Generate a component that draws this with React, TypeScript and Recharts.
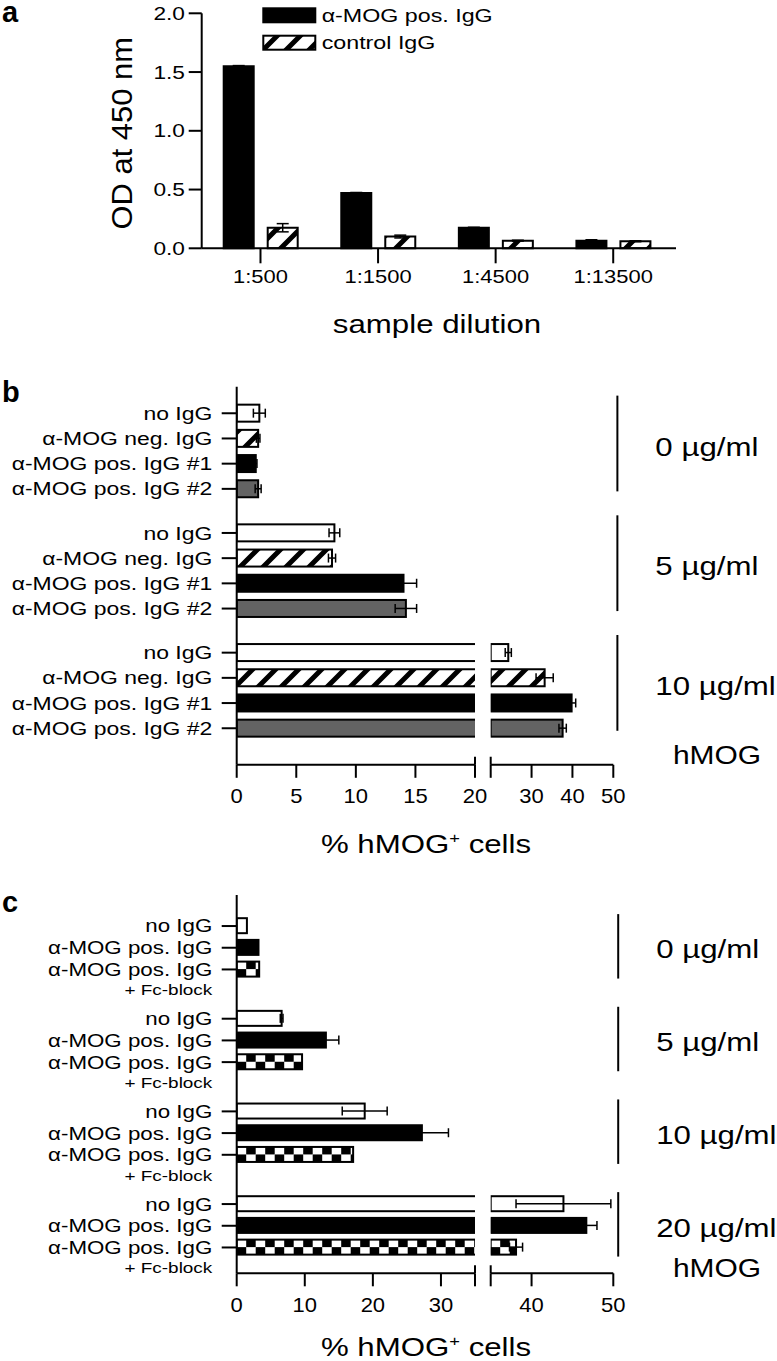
import React from "react";
import { Bar, BarChart, ErrorBar, Legend, ReferenceLine, XAxis, YAxis } from "recharts";

const FONT = '"Liberation Sans", Arial, Helvetica, sans-serif';
const GRAY = "#636363";
const AXIS = { stroke: "#000", strokeWidth: 2 };

// panel a: ELISA
const dilutions = ["1:500", "1:1500", "1:4500", "1:13500"];
const odPos = [1.55, 0.47, 0.175, 0.065];
const odPosErr = [0.005, 0.005, 0.004, 0.008];
const odCtrl = [0.175, 0.1, 0.065, 0.06];
const odCtrlErr = [0.035, 0.012, 0.004, 0.004];
const odTicks = [0, 0.5, 1, 1.5, 2];

// panel b: hMOG transfected cells, 3 concentrations
const concB = ["0 µg/ml", "5 µg/ml", "10 µg/ml"];
const rowLabelsB = ["no IgG", "α-MOG neg. IgG", "α-MOG pos. IgG #1", "α-MOG pos. IgG #2"];
const rowKindsB = ["open", "hatch", "black", "gray"];
const noIgGB = [1.9, 8.2, 24.3];
const noIgGErrB = [0.5, 0.45, 0.75];
const negIgGB = [1.8, 8.0, 33.2];
const negIgGErrB = [0.15, 0.3, 2.1];
const pos1B = [1.6, 14.0, 39.8];
const pos1ErrB = [0.1, 1.1, 1.0];
const pos2B = [1.8, 14.2, 37.6];
const pos2ErrB = [0.25, 0.9, 0.9];
const lowTicksB = [0, 5, 10, 15, 20];
const highTicksB = [20, 30, 40, 50];

// panel c: Fc-block, 4 concentrations
const concC = ["0 µg/ml", "5 µg/ml", "10 µg/ml", "20 µg/ml"];
const rowLabelsC = ["no IgG", "α-MOG pos. IgG", "α-MOG pos. IgG"];
const rowSubsC = ["", "", "+ Fc-block"];
const rowKindsC = ["open", "black", "checker"];
const noIgGC = [1.5, 6.6, 18.8, 43.9];
const noIgGErrC = [0, 0.2, 3.3, 5.8];
const posIgGC = [3.2, 13.1, 27.2, 46.7];
const posIgGErrC = [0, 1.9, 3.9, 1.3];
const fcBlockC = [3.3, 9.6, 17.1, 38.1];
const fcBlockErrC = [0, 0, 0, 0.8];
const lowTicksC = [0, 10, 20, 30, 35];
const highTicksC = [35, 40, 50];

type Row = { pos: number; label: string; sub: string; kind: string; value: number; err: number | null };

function buildRows(
  groups: string[],
  labels: string[],
  subs: string[],
  kinds: string[],
  values: number[][],
  errs: number[][],
  stride: number
): Row[] {
  const rows: Row[] = [];
  groups.forEach((_, g) => {
    labels.forEach((label, r) => {
      rows.push({
        pos: g * stride + r,
        label,
        sub: subs[r],
        kind: kinds[r],
        value: values[r][g],
        err: errs[r][g] || null,
      });
    });
  });
  return rows;
}

const rowsB = buildRows(
  concB,
  rowLabelsB,
  ["", "", "", ""],
  rowKindsB,
  [noIgGB, negIgGB, pos1B, pos2B],
  [noIgGErrB, negIgGErrB, pos1ErrB, pos2ErrB],
  4.75
);
const rowsC = buildRows(
  concC,
  rowLabelsC,
  rowSubsC,
  rowKindsC,
  [noIgGC, posIgGC, fcBlockC],
  [noIgGErrC, posIgGErrC, fcBlockErrC],
  4.27
);

let measureCtx: CanvasRenderingContext2D | null = null;
function textWidth(text: string, size: number, weight = "normal") {
  if (!measureCtx) measureCtx = document.createElement("canvas").getContext("2d");
  if (!measureCtx) return text.length * size * 0.55;
  measureCtx.font = `${weight} ${size}px "Liberation Sans"`;
  return measureCtx.measureText(text).width;
}

// text that is stretched sideways like the figure's type
function SText({ x, y, text, size, sx = 1.22, anchor = "start", weight = "normal", transform }: any) {
  return (
    <text
      x={x}
      y={y}
      fontFamily={FONT}
      fontSize={size}
      fontWeight={weight}
      textAnchor={anchor}
      textLength={textWidth(text, size, weight) * sx}
      lengthAdjust="spacingAndGlyphs"
      fill="#000"
      transform={transform}
    >
      {text}
    </text>
  );
}

function CellsTitle({ cx, y }: { cx: number; y: number }) {
  const size = 25.6;
  const w = (textWidth("% hMOG", size) + textWidth("+", 15) + textWidth(" cells", size)) * 1.22;
  return (
    <text
      x={cx}
      y={y}
      textAnchor="middle"
      fontFamily={FONT}
      fontSize={size}
      textLength={w}
      lengthAdjust="spacingAndGlyphs"
      fill="#000"
    >
      % hMOG
      <tspan fontSize={15} dy={-10}>
        +
      </tspan>
      <tspan dy={10}> cells</tspan>
    </text>
  );
}

function NumTick(props: any) {
  const { x, y, payload, size, sx, blank, fmt } = props;
  if (blank && blank.includes(payload.value)) return <g />;
  const text = fmt ? fmt(payload.value) : String(payload.value);
  return <SText x={x} y={y + size * 0.716} text={text} size={size} sx={sx} anchor="middle" />;
}

function RowTick(props: any) {
  const { x, y, payload, rows, size, subSize } = props;
  const row = rows.find((r: Row) => Math.abs(r.pos - payload.value) < 1e-6);
  if (!row) return <g />;
  return (
    <g>
      <SText x={x} y={y + size * 0.358} text={row.label} size={size} sx={1.24} anchor="end" />
      {row.sub ? (
        <SText x={x} y={y + size * 0.358 + 19.5} text={row.sub} size={subSize} sx={1.23} anchor="end" />
      ) : null}
    </g>
  );
}

function CheckerRect({ x, y, width, height }: any) {
  const cell = 9.5;
  const half = height / 2;
  const n = Math.ceil(width / cell);
  const cells = [];
  for (let i = 0; i < n; i++) {
    const w = Math.min(cell, width - i * cell);
    cells.push(<rect key={i} x={x + i * cell} y={i % 2 === 0 ? y + half : y} width={w} height={half} fill="#000" />);
  }
  return (
    <g>
      <rect x={x} y={y} width={width} height={height} fill="#fff" />
      {cells}
      <rect x={x} y={y} width={width} height={height} fill="none" stroke="#000" strokeWidth={2} />
    </g>
  );
}

function RowBar(props: any) {
  const { x, y, width, height, payload } = props;
  if (!width || width <= 0) return <g />;
  if (payload.kind === "checker") return <CheckerRect x={x} y={y} width={width} height={height} />;
  const fill =
    payload.kind === "black" ? "#000" : payload.kind === "gray" ? GRAY : payload.kind === "hatch" ? "url(#hatch)" : "#fff";
  return <rect x={x} y={y} width={width} height={height} fill={fill} stroke="#000" strokeWidth={2} />;
}

function GroupLabel({ viewBox, text }: any) {
  if (!viewBox) return null;
  return <SText x={viewBox.x + 38} y={viewBox.y + viewBox.height / 2 + 3 + 25.6 * 0.358} text={text} size={25.6} sx={1.22} />;
}

const legendOrder = ["pos", "ctrl"];

function LegendBox({ payload }: any) {
  const items = [...(payload || [])].sort(
    (a: any, b: any) => legendOrder.indexOf(a.dataKey) - legendOrder.indexOf(b.dataKey)
  );
  return (
    <svg width={250} height={50} style={{ display: "block" }}>
      {items.map((e: any, i: number) => (
        <g key={e.value}>
          <rect
            x={1.3}
            y={3.3 + i * 27.4}
            width={52}
            height={14}
            fill={e.dataKey === "ctrl" ? "url(#hatch)" : "#000"}
            stroke="#000"
            strokeWidth={2}
          />
          <SText x={59.7} y={17.2 + i * 27} text={e.value} size={18.6} sx={1.25} />
        </g>
      ))}
    </svg>
  );
}

type PanelProps = {
  rows: Row[];
  groups: string[];
  stride: number;
  top: number;
  marginTop: number;
  plotHeight: number;
  yDomain: [number, number];
  brk: number;
  lowTicks: number[];
  highTicks: number[];
  lowBlank: number[];
  highBlank: number[];
  barSize: number;
  labelSize: number;
  tickMargin: number;
  bracketX: number;
  bracketSpan: [number, number];
  markUnits: number;
};

function BrokenPanel(p: PanelProps) {
  const height = p.marginTop + p.plotHeight + 60;
  const lowData = p.rows.map((r) => ({ ...r, err: r.value <= p.brk ? r.err : null }));
  const highData = p.rows.map((r) => ({ ...r, err: r.value > p.brk ? r.err : null }));
  const rowTicks = p.rows.map((r) => r.pos);
  const mark = [
    { x: p.brk, y: p.yDomain[1] - p.markUnits },
    { x: p.brk, y: p.yDomain[1] },
  ];
  return (
    <>
      <div style={{ position: "absolute", left: 0, top: p.top }}>
        <BarChart
          width={495}
          height={height}
          data={lowData}
          layout="vertical"
          margin={{ top: p.marginTop, right: 20, left: 0, bottom: 0 }}
        >
          <XAxis
            type="number"
            domain={[0, p.brk]}
            allowDataOverflow
            ticks={p.lowTicks}
            interval={0}
            height={60}
            tickSize={13}
            tickMargin={p.tickMargin}
            axisLine={AXIS}
            tickLine={AXIS}
            tick={(t: any) => <NumTick {...t} size={20} sx={1.1} blank={p.lowBlank} />}
          />
          <YAxis
            type="number"
            dataKey="pos"
            domain={p.yDomain}
            allowDataOverflow
            ticks={rowTicks}
            interval={0}
            width={236.7}
            tickSize={15}
            tickMargin={9.4}
            axisLine={AXIS}
            tickLine={AXIS}
            tick={(t: any) => <RowTick {...t} rows={p.rows} size={p.labelSize} subSize={15.4} />}
          />
          <Bar dataKey="value" barSize={p.barSize} shape={(b: any) => <RowBar {...b} />} isAnimationActive={false}>
            <ErrorBar dataKey="err" direction="x" width={4.5} stroke="#000" strokeWidth={1.5} />
          </Bar>
          <ReferenceLine segment={mark} stroke="#000" strokeWidth={2} ifOverflow="visible" />
        </BarChart>
      </div>
      <div style={{ position: "absolute", left: 480, top: p.top }}>
        <BarChart
          width={297}
          height={height}
          data={highData}
          layout="vertical"
          margin={{ top: p.marginTop, right: 163.7, left: 10.7, bottom: 0 }}
        >
          <XAxis
            type="number"
            domain={[p.brk, 50]}
            allowDataOverflow
            ticks={p.highTicks}
            interval={0}
            height={60}
            tickSize={13}
            tickMargin={p.tickMargin}
            axisLine={AXIS}
            tickLine={AXIS}
            tick={(t: any) => <NumTick {...t} size={20} sx={1.1} blank={p.highBlank} />}
          />
          <YAxis type="number" dataKey="pos" domain={p.yDomain} allowDataOverflow hide width={0} />
          <Bar dataKey="value" barSize={p.barSize} shape={(b: any) => <RowBar {...b} />} isAnimationActive={false}>
            <ErrorBar dataKey="err" direction="x" width={4.5} stroke="#000" strokeWidth={1.5} />
          </Bar>
          <ReferenceLine segment={mark} stroke="#000" strokeWidth={2} ifOverflow="visible" />
          {p.groups.map((g, i) => (
            <ReferenceLine
              key={g}
              segment={[
                { x: p.bracketX, y: i * p.stride + p.bracketSpan[0] },
                { x: p.bracketX, y: i * p.stride + p.bracketSpan[1] },
              ]}
              stroke="#000"
              strokeWidth={2}
              ifOverflow="visible"
              label={{ content: (lp: any) => <GroupLabel viewBox={lp.viewBox} text={g} /> }}
            />
          ))}
        </BarChart>
      </div>
    </>
  );
}

export default function App() {
  const odData = dilutions.map((d, i) => ({
    dilution: d,
    pos: odPos[i],
    posErr: odPosErr[i],
    ctrl: odCtrl[i],
    ctrlErr: odCtrlErr[i],
  }));

  return (
    <div style={{ position: "absolute", left: 0, top: 0, width: 777, height: 1361, background: "#fff", overflow: "hidden" }}>
      <svg width={0} height={0} style={{ position: "absolute" }}>
        <defs>
          <pattern id="hatch" patternUnits="userSpaceOnUse" width={23} height={23}>
            <rect width={23} height={23} fill="#fff" />
            <path d="M-6,29 L29,-6 M-6,6 L6,-6 M17,29 L29,17" stroke="#000" strokeWidth={5} />
          </pattern>
        </defs>
      </svg>

      {/* panel a */}
      <div style={{ position: "absolute", left: 0, top: 0 }}>
        <BarChart width={700} height={330} data={odData} barGap={14} margin={{ top: 13.3, right: 24, left: 0, bottom: 0 }}>
          <XAxis
            dataKey="dilution"
            padding={{ left: 0, right: 4 }}
            height={81.7}
            tickSize={15}
            tickMargin={6.7}
            axisLine={AXIS}
            tickLine={AXIS}
            tick={(t: any) => <NumTick {...t} size={18.6} sx={1.18} />}
          />
          <YAxis
            domain={[0, 2]}
            ticks={odTicks}
            interval={0}
            width={201.7}
            tickSize={13}
            tickMargin={3.7}
            axisLine={AXIS}
            tickLine={AXIS}
            tick={(t: any) => (
              <SText
                x={t.x}
                y={t.y + 18.6 * 0.358}
                text={Number(t.payload.value).toFixed(1)}
                size={18.6}
                sx={1.22}
                anchor="end"
              />
            )}
          />
          <Legend
            layout="vertical"
            align="center"
            verticalAlign="middle"
            wrapperStyle={{ top: 5, left: 262, width: 250 }}
            content={(lp: any) => <LegendBox payload={lp.payload} />}
          />
          <Bar dataKey="pos" name="α-MOG pos. IgG" barSize={30} fill="#000" stroke="#000" strokeWidth={2} isAnimationActive={false}>
            <ErrorBar dataKey="posErr" width={6} stroke="#000" strokeWidth={1.5} />
          </Bar>
          <Bar dataKey="ctrl" name="control IgG" barSize={30} fill="url(#hatch)" stroke="#000" strokeWidth={2} isAnimationActive={false}>
            <ErrorBar dataKey="ctrlErr" width={6} stroke="#000" strokeWidth={1.5} />
          </Bar>
        </BarChart>
      </div>

      {/* panel b */}
      <BrokenPanel
        rows={rowsB}
        groups={concB}
        stride={4.75}
        top={370}
        marginTop={16.8}
        plotHeight={378}
        yDomain={[-1.05, 13.95]}
        brk={20}
        lowTicks={lowTicksB}
        highTicks={highTicksB}
        lowBlank={[]}
        highBlank={[20]}
        barSize={17}
        labelSize={18.5}
        tickMargin={10.5}
        bracketX={51}
        bracketSpan={[-0.7, 3.1]}
        markUnits={0.32}
      />

      {/* panel c */}
      <BrokenPanel
        rows={rowsC}
        groups={concC}
        stride={4.27}
        top={880}
        marginTop={15}
        plotHeight={378.3}
        yDomain={[-1.43, 16.0]}
        brk={35}
        lowTicks={lowTicksC}
        highTicks={highTicksC}
        lowBlank={[35]}
        highBlank={[35]}
        barSize={15}
        labelSize={18}
        tickMargin={11.7}
        bracketX={50.6}
        bracketSpan={[-0.55, 2.42]}
        markUnits={0.37}
      />

      {/* titles and panel letters */}
      <svg width={777} height={1361} style={{ position: "absolute", left: 0, top: 0, pointerEvents: "none" }}>
        <SText x={2} y={22} text="a" size={29} sx={1} weight="bold" />
        <SText x={2} y={401.5} text="b" size={29} sx={1} weight="bold" />
        <SText x={2} y={912.3} text="c" size={29} sx={1} weight="bold" />
        <SText
          x={0}
          y={30 * 0.358}
          text="OD at 450 nm"
          size={30}
          sx={1.03}
          anchor="middle"
          transform="translate(121.7,133.3) rotate(-90)"
        />
        <SText x={437} y={333} text="sample dilution" size={25.6} sx={1.22} anchor="middle" />
        <CellsTitle cx={426} y={853.3} />
        <CellsTitle cx={426} y={1356} />
        <SText x={717} y={764.2} text="hMOG" size={25.6} sx={1.17} anchor="middle" />
        <SText x={717} y={1277.2} text="hMOG" size={25.6} sx={1.17} anchor="middle" />
      </svg>
    </div>
  );
}
